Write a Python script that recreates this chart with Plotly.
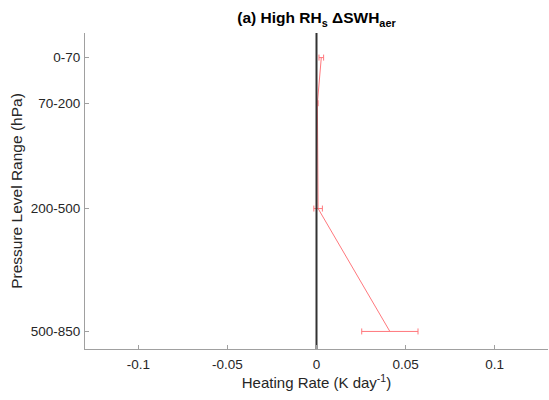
import plotly.graph_objects as go

levels = ["0-70", "70-200", "200-500", "500-850"]
level_p = [70, 200, 500, 850]
heating = [0.0027, 0.0005, 0.0009, 0.0412]
err = [0.0013, 0.0004, 0.0024, 0.0158]

red = "rgb(255,120,125)"
fig = go.Figure()
fig.add_trace(go.Scatter(
    x=heating, y=level_p, mode="lines",
    line=dict(color=red, width=1),
    error_x=dict(type="data", array=err, color=red, thickness=1, width=3),
    showlegend=False, hoverinfo="skip"))
fig.add_trace(go.Scatter(
    x=[0, 0], y=[0, 900], mode="lines",
    line=dict(color="rgb(50,50,50)", width=2),
    showlegend=False, hoverinfo="skip"))

font = "Liberation Sans, Arial, sans-serif"
fig.update_layout(
    width=549, height=400,
    margin=dict(l=85, r=1, t=33, b=51),
    paper_bgcolor="white", plot_bgcolor="white",
    font=dict(family=font, size=13.5, color="#262626"),
    title=dict(text="<b>(a) High RH<sub>s</sub> ΔSWH<sub>aer</sub></b>",
               x=0.5765, xanchor="center", y=0.955, yanchor="middle",
               font=dict(size=15.5, color="#000000")),
    xaxis=dict(range=[-0.13, 0.13], tickvals=[-0.1, -0.05, 0, 0.05, 0.1],
               ticktext=["-0.1", "-0.05", "0", "0.05", "0.1"],
               showline=True, linecolor="#a0a0a0", linewidth=1,
               ticks="inside", ticklen=4, tickcolor="#a0a0a0",
               ticklabelstandoff=3,
               showgrid=False, zeroline=False, automargin=False,
               title=dict(text="Heating Rate (K day<sup>-1</sup>)", font=dict(size=15), standoff=4)),
    yaxis=dict(range=[900, 0], tickvals=level_p, ticktext=levels,
               showline=True, linecolor="#a0a0a0", linewidth=1,
               ticks="inside", ticklen=4, tickcolor="#a0a0a0",
               ticklabelstandoff=1,
               showgrid=False, zeroline=False, automargin=False,
               title=dict(text="Pressure Level Range (hPa)", font=dict(size=15.5), standoff=4)),
)
fig.write_html("out.html", config={"displayModeBar": False},
               post_script="document.body.style.margin='0px';document.body.style.overflow='hidden';")
